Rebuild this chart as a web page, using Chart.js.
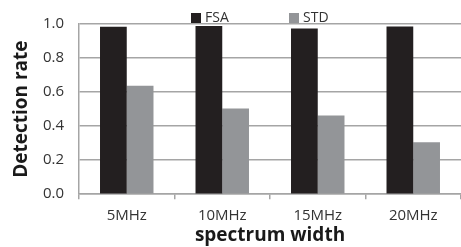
<!DOCTYPE html>
<html>
<head>
<meta charset="utf-8">
<script src="https://cdn.jsdelivr.net/npm/chart.js@4"></script>
<style>
  html, body { margin: 0; padding: 0; background: #fff; }
  #wrap { width: 461px; height: 247px; }
</style>
</head>
<body>
<div id="wrap"><canvas id="chart"></canvas></div>
<script>
// data
const categories = ["5MHz", "10MHz", "15MHz", "20MHz"];
const fsaValues = [0.984, 0.988, 0.974, 0.986];
const stdValues = [0.637, 0.504, 0.462, 0.305];
const yTicks = [0.0, 0.2, 0.4, 0.6, 0.8, 1.0];

const FONT = "'Open Sans', sans-serif";

// legend drawn by hand so the wide gap between the two items can be kept
const topLegend = {
    id: "topLegend",
    afterDraw(chart, args, opts) {
        const ctx = chart.ctx;
        ctx.save();
        ctx.font = "14px " + FONT;
        ctx.textBaseline = "middle";
        chart.data.datasets.forEach((ds, i) => {
            const x = opts.x[i];
            ctx.fillStyle = ds.backgroundColor;
            ctx.fillRect(x, opts.y - 5, 10, 10);
            ctx.fillStyle = "#333";
            ctx.fillText(ds.label, x + 14, opts.y);
        });
        ctx.restore();
    }
};

new Chart(document.getElementById("chart"), {
    type: "bar",
    data: {
        labels: categories,
        datasets: [
            { label: "FSA", data: fsaValues, backgroundColor: "#231f20" },
            { label: "STD", data: stdValues, backgroundColor: "#939598" }
        ]
    },
    plugins: [topLegend],
    options: {
        responsive: true,
        maintainAspectRatio: false,
        animation: false,
        layout: { padding: { left: 4, right: 0, top: 24, bottom: 0 } },
        datasets: { bar: { barPercentage: 1.0, categoryPercentage: 0.56 } },
        plugins: {
            legend: { display: false },
            tooltip: { enabled: false },
            topLegend: { x: [191, 289], y: 18 }
        },
        scales: {
            x: {
                grid: { display: true, drawOnChartArea: false, drawTicks: true, tickLength: 5, color: "#a5a5a5", lineWidth: 1.5, offset: true },
                border: { color: "#a5a5a5", width: 1.5 },
                ticks: { color: "#333", font: { family: FONT, size: 15 }, padding: 8 },
                title: { display: true, text: "spectrum width", color: "#1a1a1a", font: { family: FONT, size: 19, weight: "bold" }, padding: { top: -9, bottom: 0 } }
            },
            y: {
                min: 0, max: 1,
                afterBuildTicks: axis => { axis.ticks = yTicks.map(v => ({ value: v })); },
                afterFit: axis => { axis.width = 75; },
                grid: { color: "#a5a5a5", lineWidth: 1.5, drawTicks: false },
                border: { color: "#a5a5a5", width: 1.5 },
                ticks: { color: "#333", font: { family: FONT, size: 15 }, padding: 15, callback: v => v.toFixed(1) },
                title: { display: true, text: "Detection rate", color: "#1a1a1a", font: { family: FONT, size: 19, weight: "bold" }, padding: { top: 6, bottom: 0 } }
            }
        }
    }
});
</script>
</body>
</html>
